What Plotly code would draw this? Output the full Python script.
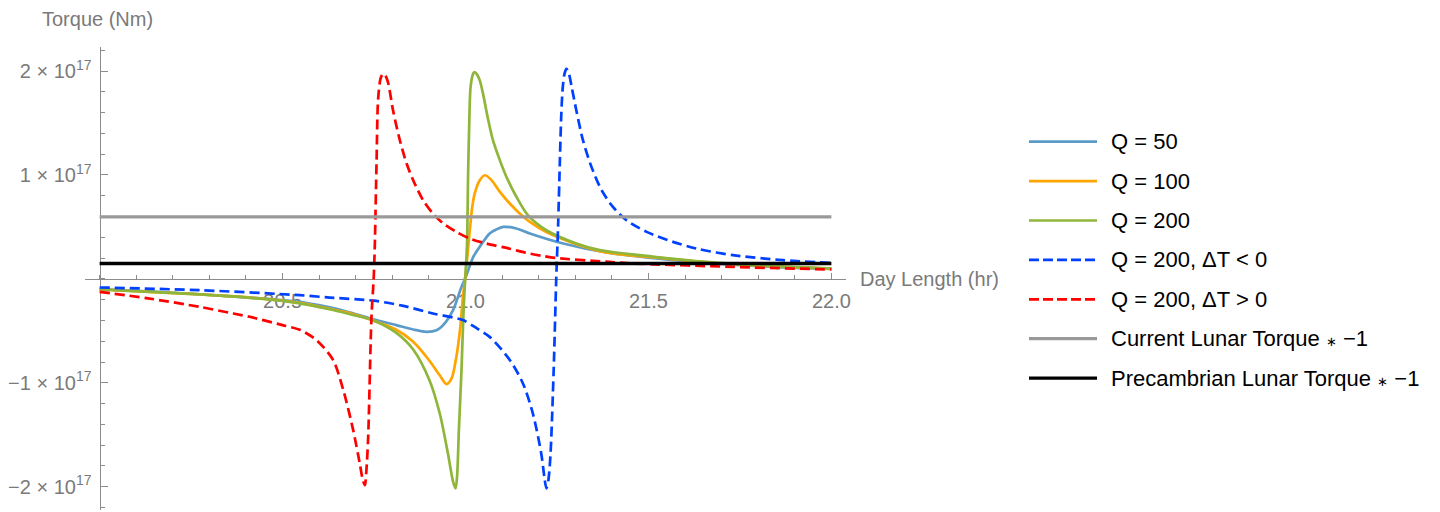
import plotly.graph_objects as go

# ---------------- data (torque in units of 1e17 Nm) ----------------
UNIT = 1e17

q50_x = [20.00, 20.137, 20.274, 20.41, 20.50, 20.57, 20.629, 20.69, 20.748, 20.811, 20.857,
         20.893, 20.921, 20.939, 20.966, 20.989, 21.003, 21.021, 21.039, 21.066, 21.084,
         21.103, 21.139, 21.176, 21.267, 21.385, 21.522, 21.658, 21.84, 22.0]
q50_y = [-0.10, -0.12, -0.148, -0.18, -0.205, -0.235, -0.275, -0.33, -0.39, -0.445, -0.487,
         -0.51, -0.495, -0.445, -0.30, -0.077, 0.04, 0.21, 0.31, 0.437, 0.475,
         0.50, 0.485, 0.437, 0.34, 0.254, 0.196, 0.154, 0.115, 0.096]

q100_x = [20.00, 20.137, 20.274, 20.41, 20.50, 20.57, 20.638, 20.69, 20.748, 20.811, 20.857,
          20.902, 20.93, 20.948, 20.962, 20.975, 20.986, 20.993, 21.0, 21.006, 21.012,
          21.018, 21.025, 21.039, 21.053, 21.071, 21.094, 21.121, 21.148, 21.176, 21.221,
          21.303, 21.385, 21.522, 21.658, 21.84, 22.0]
q100_y = [-0.102, -0.125, -0.15, -0.18, -0.21, -0.245, -0.295, -0.335, -0.40, -0.49, -0.605,
          -0.79, -0.93, -1.012, -0.958, -0.75, -0.46, -0.17, 0.03, 0.25, 0.48,
          0.68, 0.82, 0.95, 0.997, 0.95, 0.837, 0.725, 0.629, 0.548, 0.45,
          0.334, 0.254, 0.205, 0.16, 0.12, 0.098]

q200_x = [20.00, 20.137, 20.274, 20.41, 20.50, 20.57, 20.638, 20.69, 20.748, 20.811, 20.857,
          20.902, 20.93, 20.952, 20.966, 20.973, 20.977, 20.982, 20.989, 20.995, 21.0,
          21.004, 21.007, 21.01, 21.014, 21.021, 21.025, 21.031, 21.039, 21.048, 21.062,
          21.075, 21.094, 21.112, 21.139, 21.171, 21.221, 21.303, 21.367, 21.522, 21.658,
          21.84, 22.0]
q200_y = [-0.102, -0.125, -0.15, -0.182, -0.212, -0.25, -0.30, -0.345, -0.40, -0.52, -0.68,
          -0.98, -1.30, -1.68, -1.95, -2.015, -1.90, -1.45, -0.88, -0.28, 0.05,
          0.31, 0.98, 1.46, 1.85, 1.975, 1.99, 1.97, 1.91, 1.78, 1.53,
          1.334, 1.14, 0.98, 0.79, 0.61, 0.468, 0.34, 0.276, 0.21, 0.163,
          0.122, 0.10]

neg_x = [20.00, 20.274, 20.547, 20.629, 20.749, 20.83, 20.911, 20.993, 21.034, 21.066, 21.121,
         21.157, 21.184, 21.207, 21.216, 21.221, 21.226, 21.232, 21.241, 21.248, 21.253,
         21.258, 21.262, 21.266, 21.271, 21.276, 21.283, 21.29, 21.303, 21.321, 21.344,
         21.372, 21.403, 21.44, 21.495, 21.567, 21.631, 21.731, 21.868, 22.0]
neg_y = [-0.083, -0.109, -0.157, -0.18, -0.21, -0.26, -0.333, -0.397, -0.484, -0.558, -0.78,
         -1.006, -1.294, -1.68, -1.92, -2.015, -1.95, -1.71, -0.878, 0.0, 0.5,
         1.14, 1.6, 1.85, 1.98, 2.02, 1.97, 1.85, 1.62, 1.334, 1.08,
         0.853, 0.692, 0.564, 0.452, 0.356, 0.292, 0.228, 0.18, 0.154]

pos_x = [20.00, 20.137, 20.274, 20.365, 20.41, 20.50, 20.547, 20.593, 20.638, 20.666, 20.693,
         20.711, 20.719, 20.725, 20.729, 20.734, 20.743, 20.749, 20.752, 20.757, 20.761,
         20.768, 20.775, 20.782, 20.789, 20.802, 20.8205, 20.839, 20.857, 20.884, 20.911,
         20.939, 20.975, 21.012, 21.057, 21.121, 21.167, 21.212, 21.249, 21.385, 21.458,
         21.731, 22.0]
pos_y = [-0.125, -0.19, -0.27, -0.333, -0.365, -0.445, -0.49, -0.59, -0.78, -1.07, -1.455,
         -1.775, -1.93, -1.985, -1.85, -1.52, -0.365, 0.0, 0.31, 1.14, 1.72,
         1.93, 1.975, 1.95, 1.88, 1.62, 1.334, 1.11, 0.949, 0.757, 0.629,
         0.533, 0.452, 0.388, 0.34, 0.29, 0.25, 0.22, 0.20, 0.165, 0.148,
         0.115, 0.09]

line_x = [20.0, 22.0]
current_lunar = 0.597      # current lunar torque * -1
precambrian_lunar = 0.148  # precambrian lunar torque * -1

x_ticks = [20.5, 21.0, 21.5, 22.0]
x_ticktext = ["20.5", "21.0", "21.5", "22.0"]
y_ticks = [-2, -1, 1, 2]
y_ticktext = ["\u22122 \u00d7 10<sup>17</sup>", "\u22121 \u00d7 10<sup>17</sup>",
              "1 \u00d7 10<sup>17</sup>", "2 \u00d7 10<sup>17</sup>"]

STAR = '<span style="font-size:13px">\u2217</span>'

# ---------------- styles ----------------
series = [
    ("Q = 50", q50_x, q50_y, "#5b9bc9", "solid", 2.7),
    ("Q = 100", q100_x, q100_y, "#ffa500", "solid", 2.7),
    ("Q = 200", q200_x, q200_y, "#8fb63a", "solid", 2.7),
    ("Q = 200, \u0394T < 0", neg_x, neg_y, "#0040ff", "10px,5px", 2.7),
    ("Q = 200, \u0394T > 0", pos_x, pos_y, "#ff0000", "10px,5px", 2.7),
    ("Current Lunar Torque " + STAR + " \u22121", line_x, [current_lunar] * 2, "#999999", "solid", 3.3),
    ("Precambrian Lunar Torque " + STAR + " \u22121", line_x, [precambrian_lunar] * 2, "#000000", "solid", 3.3),
]

W, H = 1440, 512
ML, MR, MT, MB = 85, 594, 47, 2
PW, PH = W - ML - MR, H - MT - MB
xr = [19.96, 22.04]
yr = [-2.224 * UNIT, 2.231 * UNIT]

AX = "#8c8c8c"
TXT = "#7a7a7a"
FONT = "Liberation Sans, Arial, sans-serif"

fig = go.Figure()
for name, xs, ys, col, dash, w in series:
    fig.add_trace(go.Scatter(x=xs, y=[v * UNIT for v in ys], mode="lines", name=name,
                             line=dict(color=col, dash=dash, width=w, shape="spline", smoothing=0.8),
                             showlegend=False, hoverinfo="skip"))

def px2paper_x(p):
    return (p - ML) / PW

def px2paper_y(p):
    return (H - MB - p) / PH

# manual legend
shapes = []
annotations = []
for i, (name, xs, ys, col, dash, w) in enumerate(series):
    yy = px2paper_y(141.7 + i * 39.4)
    shapes.append(dict(type="line", xref="paper", yref="paper",
                       x0=px2paper_x(1029), x1=px2paper_x(1097), y0=yy, y1=yy,
                       line=dict(color=col, dash=dash if dash == "solid" else "10px,4px", width=w)))
    annotations.append(dict(xref="paper", yref="paper", x=px2paper_x(1109), y=yy,
                            xanchor="left", yanchor="middle", showarrow=False, text=name,
                            font=dict(family=FONT, size=22, color="#000000")))

annotations.append(dict(xref="paper", yref="paper", x=px2paper_x(40), y=px2paper_y(19),
                        xanchor="left", yanchor="middle", showarrow=False, text="Torque (Nm)",
                        font=dict(family=FONT, size=20, color=TXT)))
annotations.append(dict(xref="paper", yref="y", x=px2paper_x(858), y=0,
                        xanchor="left", yanchor="middle", showarrow=False, text="Day Length (hr)",
                        font=dict(family=FONT, size=20, color=TXT)))

fig.update_layout(
    width=W, height=H,
    margin=dict(l=ML, r=MR, t=MT, b=MB, pad=0),
    plot_bgcolor="white", paper_bgcolor="white",
    shapes=shapes, annotations=annotations,
    xaxis=dict(range=xr, anchor="free", position=(0 - yr[0]) / (yr[1] - yr[0]),
               showgrid=False, zeroline=False, showline=True, linecolor=AX, linewidth=1.3,
               ticks="inside", ticklen=6, tickwidth=1.2, tickcolor=AX,
               tickmode="array", tickvals=x_ticks, ticktext=x_ticktext,
               tickfont=dict(family=FONT, size=20, color=TXT), ticklabelstandoff=4,
               minor=dict(ticks="inside", ticklen=3.5, tickwidth=1.2, tickcolor=AX,
                          tickmode="linear", tick0=20.0, dtick=0.1, showgrid=False),
               layer="below traces", fixedrange=True),
    yaxis=dict(range=yr, anchor="free", position=(20.0 - xr[0]) / (xr[1] - xr[0]),
               showgrid=False, zeroline=False, showline=True, linecolor=AX, linewidth=1.3,
               ticks="inside", ticklen=7, tickwidth=1.2, tickcolor=AX,
               tickmode="array", tickvals=[v * UNIT for v in y_ticks], ticktext=y_ticktext,
               tickfont=dict(family=FONT, size=20, color=TXT), ticklabelstandoff=4,
               minor=dict(ticks="inside", ticklen=4, tickwidth=1.2, tickcolor=AX,
                          tickmode="linear", tick0=0, dtick=0.2 * UNIT, showgrid=False),
               layer="below traces", fixedrange=True),
)

fig.write_html("out.html", config={"displayModeBar": False},
               post_script="document.body.style.margin='0px';")
